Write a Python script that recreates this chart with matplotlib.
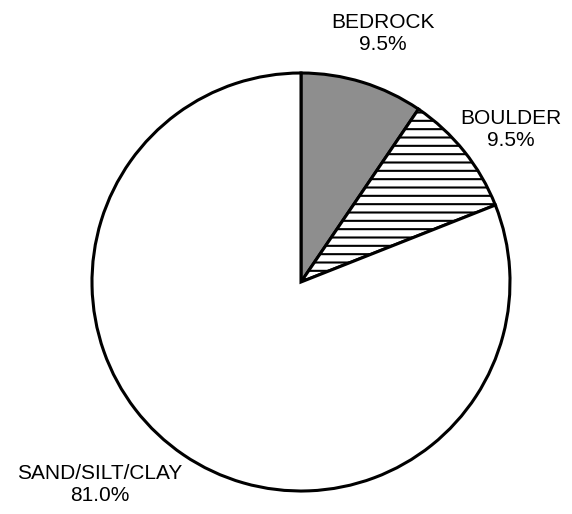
import matplotlib
matplotlib.use('Agg')
import matplotlib.pyplot as plt

plt.rcParams['font.family'] = ['Liberation Sans', 'DejaVu Sans']
plt.rcParams['hatch.linewidth'] = 1.5

labels = ['BEDROCK', 'BOULDER', 'SAND/SILT/CLAY']
values = [9.5, 9.5, 81.0]
fills = ['#8e8e8e', 'white', 'white']
hatches = ['', '--', '']

# label spots, in radius units
label_pos = [(0.392, 1.19), (1.005, 0.732), (-0.962, -0.97)]

fig = plt.figure(figsize=(5.72, 5.14), dpi=100)
ax = fig.add_axes([92 / 572, 23 / 514, 418 / 572, 418 / 514])

wedges, _ = ax.pie(values, startangle=90, counterclock=False, colors=fills,
                   radius=1.0,
                   wedgeprops={'edgecolor': 'black', 'linewidth': 2.2})
for w, h in zip(wedges, hatches):
    w.set_hatch(h)

for lab, val, (x, y) in zip(labels, values, label_pos):
    ax.text(x, y, '{}\n{:.1f}%'.format(lab, val), ha='center', va='center',
            fontsize=15, linespacing=1.2, clip_on=False)

ax.set_xlim(-1, 1)
ax.set_ylim(-1, 1)
ax.set_aspect('equal')
ax.axis('off')

fig.savefig('out.png', dpi=100)
